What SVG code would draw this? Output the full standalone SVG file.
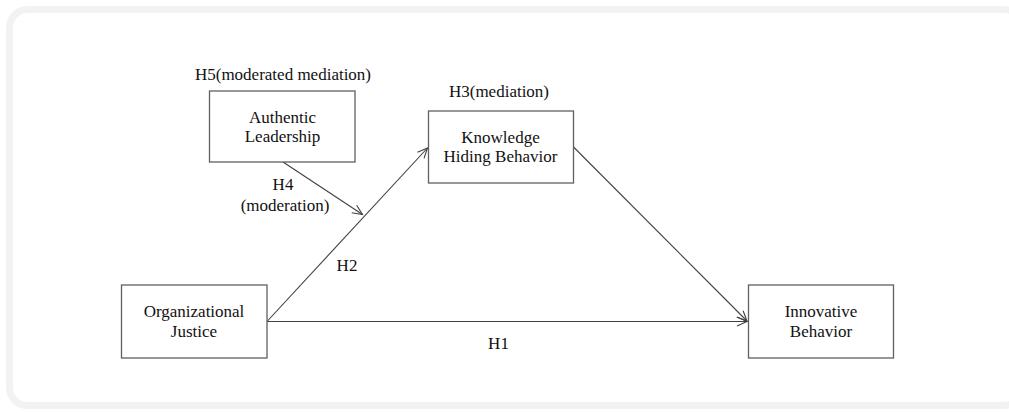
<svg xmlns="http://www.w3.org/2000/svg" width="1009" height="413" viewBox="0 0 1009 413">
<style>
.box{fill:#ffffff;stroke:#606060;stroke-width:1.3}
.t{font-family:"Liberation Serif","DejaVu Serif",serif;font-size:17px;fill:#111111;text-anchor:middle}
.c{fill:none;stroke:#404040;stroke-width:1.1}
</style>
<defs>
<marker id="arr" markerUnits="userSpaceOnUse" markerWidth="14" markerHeight="12" refX="11" refY="5" orient="auto" viewBox="0 0 14 12">
<path d="M1,0.5 L11,5 L1,9.5" fill="none" stroke="#404040" stroke-width="1.1"/>
</marker>
</defs>
<rect x="0" y="0" width="1009" height="413" fill="#ffffff"/>
<rect x="9.5" y="9.5" width="1012" height="396" rx="18" fill="#ffffff" stroke="#f2f2f2" stroke-width="7"/>
<g id="connectors">
<line class="c" x1="267" y1="321.5" x2="747" y2="321.5" marker-end="url(#arr)"/>
<line class="c" x1="267" y1="321.5" x2="427.5" y2="148" marker-end="url(#arr)"/>
<line class="c" x1="573" y1="146.5" x2="747" y2="321" marker-end="url(#arr)"/>
<line class="c" x1="283" y1="162" x2="362.5" y2="214.5" marker-end="url(#arr)"/>
<text class="t" x="347" y="271">H2</text>
<text class="t" x="498.5" y="349">H1</text>
<text class="t" x="283" y="190">H4</text>
<text class="t" x="285" y="211">(moderation)</text>
</g>
<g id="authentic-leadership">
<text class="t" x="283" y="80">H5(moderated mediation)</text>
<rect class="box" x="209.5" y="91" width="145.5" height="71"/>
<text class="t" x="282.5" y="122.5">Authentic</text>
<text class="t" x="282.5" y="141.5">Leadership</text>
</g>
<g id="knowledge-hiding">
<text class="t" x="499" y="97">H3(mediation)</text>
<rect class="box" x="428.5" y="111" width="145" height="72"/>
<text class="t" x="500.5" y="143">Knowledge</text>
<text class="t" x="500.5" y="162">Hiding Behavior</text>
</g>
<g id="organizational-justice">
<rect class="box" x="121.5" y="285" width="145.5" height="73"/>
<text class="t" x="194" y="317">Organizational</text>
<text class="t" x="194" y="337">Justice</text>
</g>
<g id="innovative-behavior">
<rect class="box" x="748.5" y="285" width="145" height="73"/>
<text class="t" x="821" y="317">Innovative</text>
<text class="t" x="821" y="337">Behavior</text>
</g>
</svg>
